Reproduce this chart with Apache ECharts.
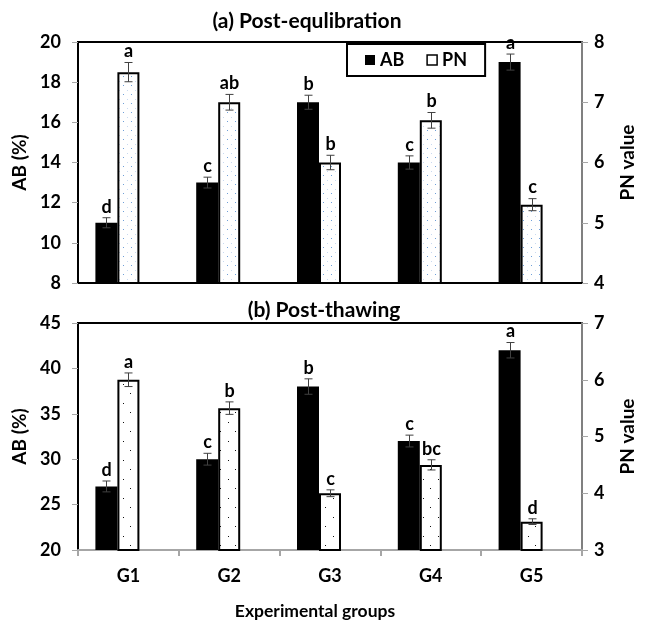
<!DOCTYPE html>
<html>
<head>
<meta charset="utf-8">
<script src="https://cdn.jsdelivr.net/npm/echarts@6/dist/echarts.min.js"></script>
<style>
  html, body { margin: 0; padding: 0; background: #fff; }
  #main { width: 646px; height: 628px; }
</style>
</head>
<body>
<div id="main"></div>
<script>
const groups = ['G1', 'G2', 'G3', 'G4', 'G5'];

// (a) Post-equlibration
const abEquil = [11, 13, 17, 14, 19];
const abEquilErr = [0.25, 0.27, 0.35, 0.33, 0.4];
const abEquilLetters = ['d', 'c', 'b', 'c', 'a'];
const pnEquil = [7.5, 7.0, 6.0, 6.7, 5.3];
const pnEquilErr = [0.16, 0.13, 0.12, 0.13, 0.1];
const pnEquilLetters = ['a', 'ab', 'b', 'b', 'c'];

// (b) Post-thawing
const abThaw = [27, 30, 38, 32, 42];
const abThawErr = [0.6, 0.65, 0.85, 0.65, 0.85];
const abThawLetters = ['d', 'c', 'b', 'c', 'a'];
const pnThaw = [6.0, 5.5, 4.0, 4.5, 3.5];
const pnThawErr = [0.12, 0.11, 0.06, 0.09, 0.05];
const pnThawLetters = ['a', 'b', 'c', 'bc', 'd'];

const FONT = 'Lato, "Open Sans", sans-serif';
const BAR_W = 22;

function dotPattern(w, h, dots) {
  const c = document.createElement('canvas');
  c.width = w;
  c.height = h;
  const ctx = c.getContext('2d');
  ctx.fillStyle = '#fff';
  ctx.fillRect(0, 0, w, h);
  dots.forEach(function (d) {
    ctx.fillStyle = d[2];
    ctx.fillRect(d[0], d[1], 1, 1);
  });
  return { image: c, repeat: 'repeat' };
}

const blueDots = dotPattern(8, 9, [[3, 4, '#6f9fd8'], [7, 0, '#c9d9ef']]);
const blackDots = dotPattern(15, 19, [[3, 4, '#111'], [10, 13, '#111']]);

function errorBars(letters, offset) {
  return function (params, api) {
    const i = params.dataIndex;
    const top = api.coord([api.value(0), api.value(1) + api.value(2)]);
    const bot = api.coord([api.value(0), api.value(1) - api.value(2)]);
    const x = Math.round(top[0] + offset) + 0.5;
    const st = { stroke: '#404040', lineWidth: 1 };
    return {
      type: 'group',
      children: [
        { type: 'line', shape: { x1: x, y1: top[1], x2: x, y2: bot[1] }, style: st },
        { type: 'line', shape: { x1: x - 4, y1: top[1], x2: x + 4, y2: top[1] }, style: st },
        { type: 'line', shape: { x1: x - 4, y1: bot[1], x2: x + 4, y2: bot[1] }, style: st },
        {
          type: 'text', x: x, y: top[1] - 2,
          style: {
            text: letters[i], align: 'center', verticalAlign: 'bottom',
            font: 'bold 18px ' + FONT, fill: '#000'
          }
        }
      ]
    };
  };
}

function errData(means, errs) {
  return means.map(function (m, i) { return [i, m, errs[i]]; });
}

const chart = echarts.init(document.getElementById('main'));

const axisLabelStyle = { color: '#000', fontSize: 18, fontWeight: 'bold', fontFamily: FONT };
const nameStyle = { color: '#000', fontSize: 19, fontWeight: 'bold', fontFamily: FONT };

function leftAxis(grid, min, max, step) {
  return {
    type: 'value', gridIndex: grid, min: min, max: max, interval: step,
    name: 'AB (%)', nameLocation: 'middle', nameGap: 46, nameRotate: 90,
    nameTextStyle: nameStyle,
    axisLine: { show: true, lineStyle: { color: '#000', width: 2 } },
    axisTick: { show: true, length: 6, lineStyle: { color: '#a6a6a6', width: 1 } },
    axisLabel: Object.assign({ margin: 17 }, axisLabelStyle),
    splitLine: { show: false }
  };
}

function rightAxis(grid, min, max, step) {
  return {
    type: 'value', gridIndex: grid, position: 'right', min: min, max: max, interval: step,
    name: 'PN value', nameLocation: 'middle', nameGap: 36, nameRotate: 90,
    nameTextStyle: nameStyle,
    axisLine: { show: true, lineStyle: { color: '#808080', width: 2 } },
    axisTick: { show: true, length: 6, lineStyle: { color: '#a6a6a6', width: 1 } },
    axisLabel: Object.assign({ margin: 12 }, axisLabelStyle),
    splitLine: { show: false }
  };
}

function barSeries(name, xi, yi, data, style) {
  return {
    name: name, type: 'bar', xAxisIndex: xi, yAxisIndex: yi,
    barWidth: BAR_W, barGap: '0%', data: data, itemStyle: style
  };
}

const option = {
  animation: false,
  backgroundColor: '#fff',
  graphic: [
    {
      type: 'text', x: 307, y: 21,
      style: { text: '(a) Post-equlibration', font: 'bold 21px ' + FONT, fill: '#000', align: 'center', verticalAlign: 'middle' }
    },
    {
      type: 'text', x: 324, y: 310,
      style: { text: '(b) Post-thawing', font: 'bold 21px ' + FONT, fill: '#000', align: 'center', verticalAlign: 'middle' }
    }
  ],
  legend: {
    data: [
      { name: 'AB', itemStyle: { color: '#000' } },
      { name: 'PN', itemStyle: { color: '#fff', borderColor: '#000', borderWidth: 1.5 } }
    ],
    icon: 'rect',
    itemWidth: 10,
    itemHeight: 10,
    itemGap: 22,
    left: 347,
    top: 44,
    padding: [7, 18],
    borderColor: '#000',
    borderWidth: 2,
    backgroundColor: '#fff',
    textStyle: { color: '#000', fontSize: 18, fontWeight: 'bold', fontFamily: FONT }
  },
  grid: [
    { left: 78, right: 64, top: 42, height: 241, show: true, borderColor: '#000', borderWidth: 2, backgroundColor: 'transparent' },
    { left: 78, right: 64, top: 323, height: 227, show: true, borderColor: '#000', borderWidth: 2, backgroundColor: 'transparent' }
  ],
  xAxis: [
    {
      type: 'category', gridIndex: 0, data: groups,
      axisLine: { lineStyle: { color: '#000', width: 2 } },
      axisTick: { show: false }, axisLabel: { show: false }
    },
    {
      type: 'category', gridIndex: 1, data: groups,
      name: 'Experimental groups', nameLocation: 'middle', nameGap: 52,
      nameTextStyle: Object.assign({ padding: [0, 30, 0, 0] }, nameStyle, { fontSize: 17.5 }),
      axisLine: { lineStyle: { color: '#a6a6a6', width: 2 } },
      axisTick: { show: true, length: 6, lineStyle: { color: '#a6a6a6', width: 2 } },
      axisLabel: Object.assign({ margin: 17 }, axisLabelStyle)
    }
  ],
  yAxis: [
    leftAxis(0, 8, 20, 2),
    rightAxis(0, 4, 8, 1),
    leftAxis(1, 20, 45, 5),
    rightAxis(1, 3, 7, 1)
  ],
  series: [
    barSeries('AB', 0, 0, abEquil, { color: '#000' }),
    barSeries('PN', 0, 1, pnEquil, { color: blueDots, borderColor: '#000', borderWidth: 2 }),
    barSeries('spacer', 0, 0, groups.map(function () { return null; }), { color: 'transparent' }),
    barSeries('AB', 1, 2, abThaw, { color: '#000' }),
    barSeries('PN', 1, 3, pnThaw, { color: blackDots, borderColor: '#000', borderWidth: 2 }),
    barSeries('spacer', 1, 2, groups.map(function () { return null; }), { color: 'transparent' }),
    {
      type: 'custom', xAxisIndex: 0, yAxisIndex: 0, z: 5,
      renderItem: errorBars(abEquilLetters, -BAR_W), data: errData(abEquil, abEquilErr)
    },
    {
      type: 'custom', xAxisIndex: 0, yAxisIndex: 1, z: 5,
      renderItem: errorBars(pnEquilLetters, 0), data: errData(pnEquil, pnEquilErr)
    },
    {
      type: 'custom', xAxisIndex: 1, yAxisIndex: 2, z: 5,
      renderItem: errorBars(abThawLetters, -BAR_W), data: errData(abThaw, abThawErr)
    },
    {
      type: 'custom', xAxisIndex: 1, yAxisIndex: 3, z: 5,
      renderItem: errorBars(pnThawLetters, 0), data: errData(pnThaw, pnThawErr)
    }
  ]
};

chart.setOption(option);
</script>
</body>
</html>
